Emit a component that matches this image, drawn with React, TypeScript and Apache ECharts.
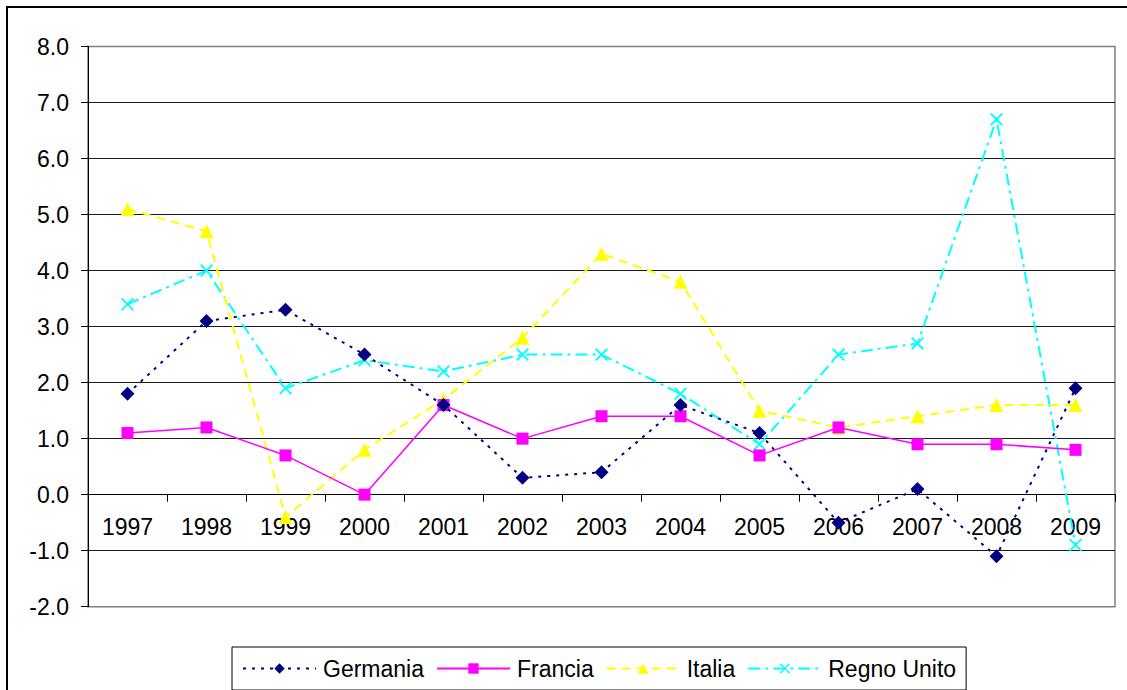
import React, { useEffect, useRef } from "react";
import * as echarts from "echarts";

const years = ["1997", "1998", "1999", "2000", "2001", "2002", "2003", "2004", "2005", "2006", "2007", "2008", "2009"];
const germania = [1.8, 3.1, 3.3, 2.5, 1.6, 0.3, 0.4, 1.6, 1.1, -0.5, 0.1, -1.1, 1.9];
const francia = [1.1, 1.2, 0.7, 0.0, 1.6, 1.0, 1.4, 1.4, 0.7, 1.2, 0.9, 0.9, 0.8];
const italia = [5.1, 4.7, -0.4, 0.8, 1.7, 2.8, 4.3, 3.8, 1.5, 1.2, 1.4, 1.6, 1.6];
const regnoUnito = [3.4, 4.0, 1.9, 2.4, 2.2, 2.5, 2.5, 1.8, 0.9, 2.5, 2.7, 6.7, -0.9];

const FONT = "'Liberation Sans', Arial, sans-serif";
const X_SYMBOL = "path://M0,1L1,0L5,4L9,0L10,1L6,5L10,9L9,10L5,6L1,10L0,9L4,5Z";

const GRID_TOP = 46.5;
const GRID_BOTTOM_Y = 606.7;
const Y_MIN = -2;
const Y_MAX = 8;

export default function App() {
  const ref = useRef<HTMLDivElement>(null);
  useEffect(() => {
    if (!ref.current) return;
    const chart = echarts.init(ref.current, undefined, { renderer: "svg" });
    const zeroY = GRID_TOP + ((Y_MAX - 0) / (Y_MAX - Y_MIN)) * (GRID_BOTTOM_Y - GRID_TOP);
    chart.setOption({
      animation: false,
      backgroundColor: "#ffffff",
      textStyle: { fontFamily: FONT },
      graphic: [
        {
          type: "rect",
          shape: { x: 7, y: 7, width: 1300, height: 900 },
          style: { fill: "none", stroke: "#000", lineWidth: 2 },
          silent: true,
          z: 100,
        },
      ],
      grid: {
        left: 88,
        right: 12,
        top: GRID_TOP,
        bottom: 690 - GRID_BOTTOM_Y,
        show: true,
        borderColor: "#808080",
        borderWidth: 1.5,
        backgroundColor: "transparent",
      },
      legend: {
        left: 232,
        top: 647,
        orient: "horizontal",
        itemWidth: 73,
        itemHeight: 13,
        itemGap: 12,
        padding: [10, 10, 10, 10],
        borderColor: "#000",
        borderWidth: 1,
        textStyle: { fontSize: 23, color: "#000", fontFamily: FONT, padding: [0, 0, 0, 2] },
        data: ["Germania", "Francia", "Italia", "Regno Unito"],
      },
      xAxis: {
        type: "category",
        data: years,
        boundaryGap: true,
        position: "bottom",
        offset: -(GRID_BOTTOM_Y - zeroY),
        axisLine: { show: true, onZero: false, lineStyle: { color: "#000", width: 1 } },
        axisTick: { show: true, inside: false, length: 7, interval: 0, alignWithLabel: false, lineStyle: { color: "#000" } },
        axisLabel: { show: true, interval: 0, margin: 21, fontSize: 23, color: "#000", fontFamily: FONT },
        splitLine: { show: false },
      },
      yAxis: {
        type: "value",
        min: Y_MIN,
        max: Y_MAX,
        interval: 1,
        axisLine: { show: true, lineStyle: { color: "#000", width: 1 } },
        axisTick: { show: true, inside: false, length: 7, lineStyle: { color: "#000" } },
        axisLabel: {
          margin: 19,
          fontSize: 23,
          color: "#000",
          fontFamily: FONT,
          formatter: (v: number) => v.toFixed(1),
        },
        splitLine: { show: true, showMinLine: false, showMaxLine: false, lineStyle: { color: "#1a1a1a", width: 1 } },
      },
      series: [
        {
          name: "Germania",
          type: "line",
          data: germania,
          symbol: "diamond",
          symbolSize: 14,
          itemStyle: { color: "#000080" },
          lineStyle: { color: "#000080", width: 2, type: [3, 6] },
          z: 5,
        },
        {
          name: "Francia",
          type: "line",
          data: francia,
          symbol: "rect",
          symbolSize: 12,
          itemStyle: { color: "#FF00FF" },
          lineStyle: { color: "#FF00FF", width: 1.5, type: "solid" },
          z: 4,
        },
        {
          name: "Italia",
          type: "line",
          data: italia,
          symbol: "triangle",
          symbolSize: 14,
          itemStyle: { color: "#FFFF00" },
          lineStyle: { color: "#FFFF00", width: 2, type: [9, 6] },
          z: 3,
        },
        {
          name: "Regno Unito",
          type: "line",
          data: regnoUnito,
          symbol: X_SYMBOL,
          symbolSize: 13,
          itemStyle: { color: "#00FFFF" },
          lineStyle: { color: "#00FFFF", width: 2, type: [12, 5, 3, 5] },
          z: 2,
        },
      ],
    });
    return () => chart.dispose();
  }, []);
  return (
    <div
      ref={ref}
      style={{ position: "fixed", left: 0, top: 0, width: 1127, height: 690, background: "#fff" }}
    />
  );
}
